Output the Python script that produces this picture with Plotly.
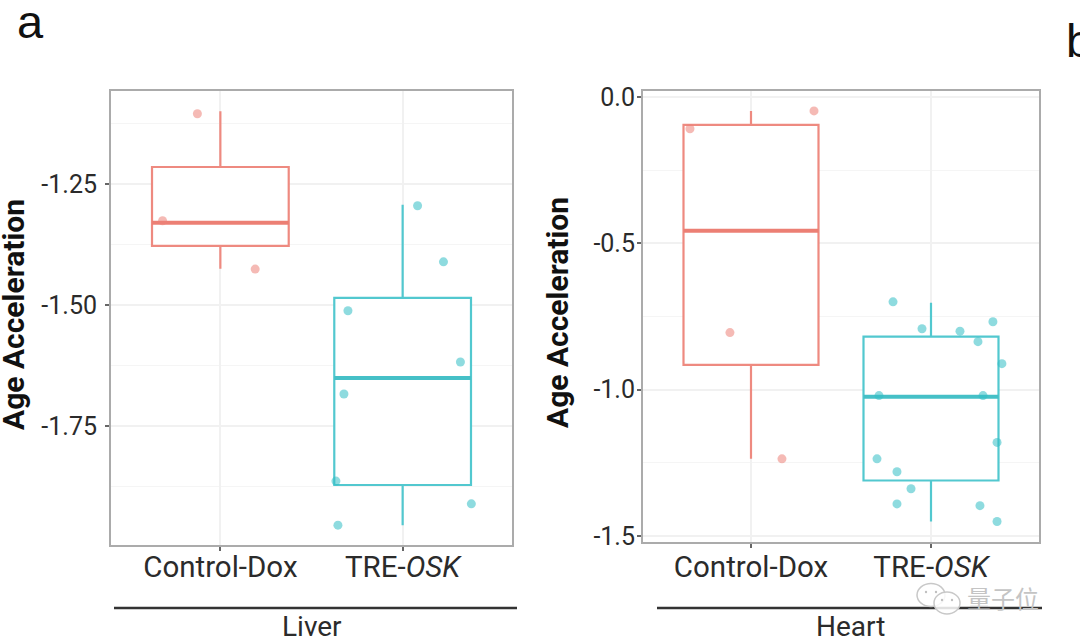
import plotly.graph_objects as go

W, H = 1080, 644
CATEGORIES = ["Control-Dox", "TRE-<i>OSK</i>"]
Y_TITLE = "Age Acceleration"
PANEL_NAMES = ["Liver", "Heart"]

# Liver
liver_control = dict(low=-1.425, q1=-1.378, med=-1.33, q3=-1.215, high=-1.10)
liver_tre = dict(low=-1.955, q1=-1.872, med=-1.651, q3=-1.4855, high=-1.293)
liver_control_x = [-0.126, -0.317, 0.191]
liver_control_y = [-1.105, -1.326, -1.426]
liver_tre_x = [1.082, 1.224, 0.70, 1.317, 0.678, 0.634, 0.645, 1.377]
liver_tre_y = [-1.295, -1.411, -1.512, -1.618, -1.684, -1.864, -1.955, -1.911]
liver_ticks = [-1.25, -1.50, -1.75]
liver_ticktext = ["-1.25", "-1.50", "-1.75"]
liver_minor = [-1.125, -1.375, -1.625, -1.875]

# Heart
heart_control = dict(low=-1.236, q1=-0.915, med=-0.457, q3=-0.0956, high=-0.048)
heart_tre = dict(low=-1.45, q1=-1.31, med=-1.024, q3=-0.819, high=-0.703)
heart_control_x = [-0.339, 0.35, -0.117, 0.172]
heart_control_y = [-0.109, -0.048, -0.805, -1.236]
heart_tre_x = [0.789, 0.95, 1.161, 1.344, 1.261, 1.394, 0.711, 1.289, 1.367, 0.70, 0.811, 0.889, 0.811, 1.272, 1.367]
heart_tre_y = [-0.70, -0.792, -0.80, -0.768, -0.836, -0.911, -1.02, -1.02, -1.18, -1.236, -1.28, -1.338, -1.39, -1.396, -1.45]
heart_ticks = [0.0, -0.5, -1.0, -1.5]
heart_ticktext = ["0.0", "-0.5", "-1.0", "-1.5"]
heart_minor = [-0.25, -0.75, -1.25]

RED, TEAL = "#EE8A80", "#52C8CF"
RED_MED, TEAL_MED = "#EC7F74", "#45C0C7"
RED_PT, TEAL_PT = "rgba(236,130,120,0.55)", "rgba(50,190,197,0.55)"
GRID = "#F1F1F1"
BOX_W = 0.75

fig = go.Figure()


def add_group(pos, stats, px, py, line, medc, ptc, xa, ya):
    fig.add_trace(go.Box(
        x=[pos], q1=[stats["q1"]], median=[stats["med"]], q3=[stats["q3"]],
        lowerfence=[stats["low"]], upperfence=[stats["high"]],
        width=BOX_W, whiskerwidth=0, fillcolor="white",
        line=dict(color=line, width=2.2), boxpoints=False,
        xaxis=xa, yaxis=ya, showlegend=False))
    fig.add_trace(go.Scatter(
        x=[pos - BOX_W / 2, pos + BOX_W / 2], y=[stats["med"], stats["med"]],
        mode="lines", line=dict(color=medc, width=4),
        xaxis=xa, yaxis=ya, showlegend=False))
    fig.add_trace(go.Scatter(
        x=px, y=py, mode="markers", marker=dict(color=ptc, size=9, line=dict(width=0)),
        xaxis=xa, yaxis=ya, showlegend=False))


add_group(0, liver_control, liver_control_x, liver_control_y, RED, RED_MED, RED_PT, "x", "y")
add_group(1, liver_tre, liver_tre_x, liver_tre_y, TEAL, TEAL_MED, TEAL_PT, "x", "y")
add_group(0, heart_control, heart_control_x, heart_control_y, RED, RED_MED, RED_PT, "x2", "y2")
add_group(1, heart_tre, heart_tre_x, heart_tre_y, TEAL, TEAL_MED, TEAL_PT, "x2", "y2")


def xaxis(dom, label_off):
    return dict(domain=[dom[0] / W, dom[1] / W], range=[-0.6, 1.6], tickmode="array", automargin=False,
                tickvals=[0, 1], ticktext=CATEGORIES, showgrid=True, gridcolor=GRID, gridwidth=1.5,
                zeroline=False, showline=True, mirror=True, linecolor="#ABABAB", linewidth=2,
                ticks="outside", ticklen=4, tickcolor="#666", tickwidth=2, ticklabelstandoff=label_off,
                tickfont=dict(family="Roboto", size=29.5, color="#2b2b2b"))


def yaxis(top, bottom, rng, ticks, ticktext, minor, anchor, label_off):
    return dict(domain=[1 - bottom / H, 1 - top / H], range=rng, anchor=anchor, tickmode="array", automargin=False,
                tickvals=ticks, ticktext=ticktext, showgrid=True, gridcolor=GRID, gridwidth=1.5,
                minor=dict(tickmode="array", tickvals=minor, showgrid=True, gridcolor="#F5F5F5",
                           gridwidth=1.2, ticks=""),
                zeroline=False, showline=True, mirror=True, linecolor="#ABABAB", linewidth=2,
                ticks="outside", ticklen=4, tickcolor="#666", tickwidth=2, ticklabelstandoff=label_off,
                tickfont=dict(family="Roboto", size=25, color="#2b2b2b"))


rule = dict(type="line", xref="paper", yref="paper", line=dict(color="#333", width=2.5))
y_rule = 1 - 608 / H


def bubble(cx, cy, rx, ry):
    return dict(type="circle", xref="paper", yref="paper", x0=(cx - rx) / W, x1=(cx + rx) / W,
                y0=1 - (cy + ry) / H, y1=1 - (cy - ry) / H,
                line=dict(color="#C8C8C8", width=1.5), fillcolor="rgba(255,255,255,0.85)")


def dot(cx, cy):
    return dict(type="circle", xref="paper", yref="paper", x0=(cx - 1.2) / W, x1=(cx + 1.2) / W,
                y0=1 - (cy + 1.2) / H, y1=1 - (cy - 1.2) / H, line=dict(width=0), fillcolor="#C0C0C0")


def label(text, x, y, family, size, color, **kw):
    return dict(text=text, x=x / W, y=1 - y / H, xref="paper", yref="paper", showarrow=False,
                xanchor="center", yanchor="middle", font=dict(family=family, size=size, color=color), **kw)


fig.update_layout(
    width=W, height=H, margin=dict(l=0, r=0, t=0, b=0), autosize=False,
    paper_bgcolor="white", plot_bgcolor="white",
    xaxis=xaxis((111, 512), -9),
    yaxis=yaxis(91, 545, [-1.996, -1.058], liver_ticks, liver_ticktext, liver_minor, "x", 3),
    xaxis2=dict(xaxis((643, 1039), -6), anchor="y2"),
    yaxis2=yaxis(91, 542, [-1.52, 0.02], heart_ticks, heart_ticktext, heart_minor, "x2", -3),
    shapes=[
        dict(rule, x0=114 / W, x1=517 / W, y0=y_rule, y1=y_rule),
        dict(rule, x0=657 / W, x1=1042 / W, y0=y_rule, y1=y_rule),
        bubble(931, 595, 14, 11.5), dot(926, 592), dot(936, 592),
        bubble(947, 603, 13, 11), dot(942, 600), dot(952, 600),
    ],
    annotations=[
        label("a", 30, 21, "Liberation Sans", 47, "#111"),
        label("b", 1079, 41, "Liberation Sans", 47, "#111"),
        label(PANEL_NAMES[0], 312, 626, "Roboto", 28, "#2b2b2b"),
        label(PANEL_NAMES[1], 850, 626, "Roboto", 28, "#2b2b2b"),
        label(Y_TITLE, 14, 315, "Roboto", 30, "#111", textangle=-90),
        label(Y_TITLE, 557, 313, "Roboto", 30, "#111", textangle=-90),
        label("量子位", 1003, 597, "Noto Sans CJK SC", 24, "#C4C4C4"),
    ],
)
for a in fig.layout.annotations:
    if a.text == Y_TITLE:
        a.font.weight = "bold"

fig.write_html("out.html", config=dict(displayModeBar=False),
               post_script="document.body.style.margin='0';")
